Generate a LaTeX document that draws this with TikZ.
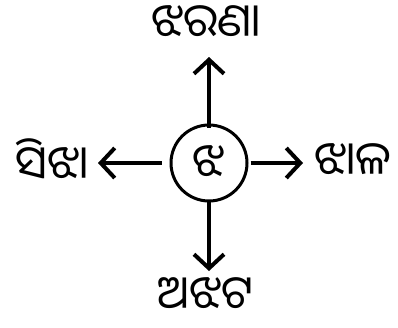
\documentclass[tikz,border=0pt]{standalone}
\usepackage{fontspec}
\newfontfamily\oriya[Script=Oriya]{Noto Sans Oriya UI}
\usetikzlibrary{arrows.meta}
\begin{document}
\begin{tikzpicture}[x=1pt,y=-1pt,
  lbl/.style={font=\oriya\fontsize{46}{50}\selectfont, inner sep=0pt},
  arr/.style={line width=4pt, -{Straight Barb[length=14pt,width=30pt,line width=4pt]}}]
\useasboundingbox (0,0) rectangle (398,327);
\node[draw, circle, line width=3pt, minimum size=76pt, inner sep=0pt, lbl] (c) at (209,163) {ଝ};
\node[lbl] (t) at (206,23) {ଝରଣା};
\node[lbl] (l) at (52,161) {ସିଝା};
\node[lbl] (r) at (353,161) {ଝାଳ};
\node[lbl] (b) at (206,295) {ଅଝଟ};
\coordinate (tt) at (209,57);
\coordinate (lt) at (98,163);
\coordinate (rt) at (303,163);
\coordinate (bt) at (209,271);
\draw[arr] ([yshift=-4pt]c.north) -- (tt);
\draw[arr] ([xshift=-8pt]c.west) -- (lt);
\draw[arr] ([xshift=2pt]c.east) -- (rt);
\draw[arr] ([yshift=3pt]c.south) -- (bt);
\end{tikzpicture}
\end{document}
